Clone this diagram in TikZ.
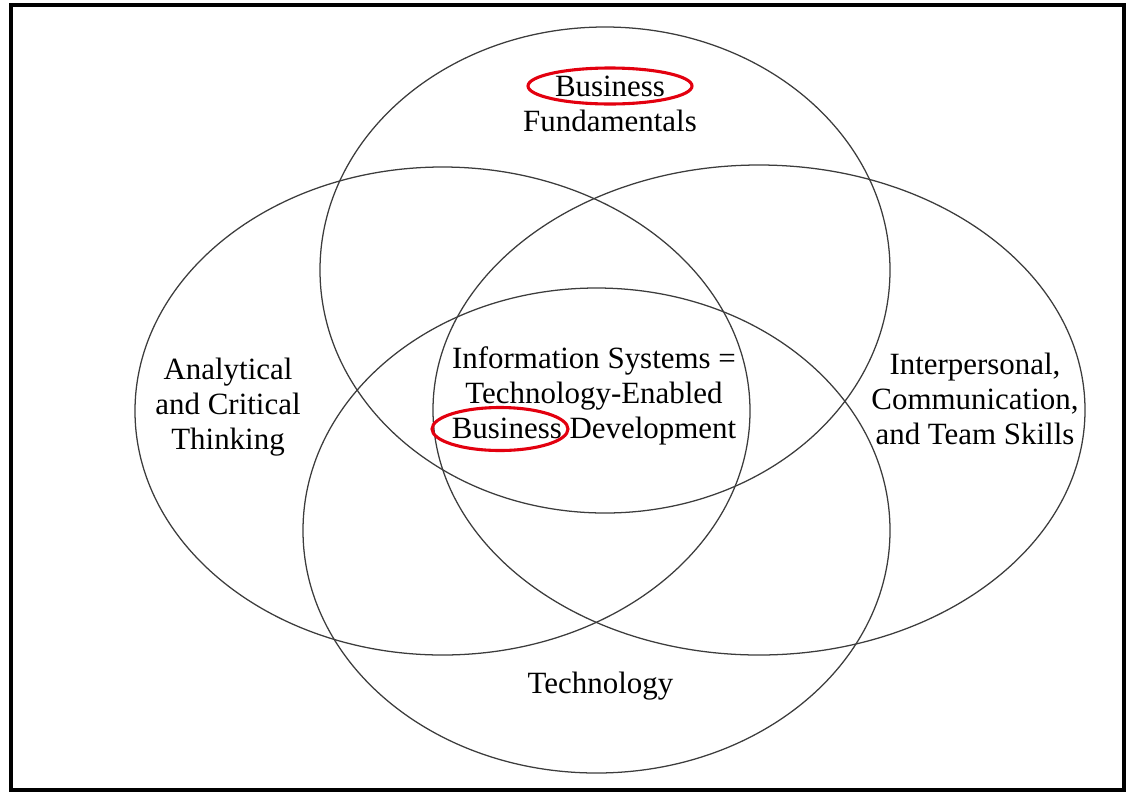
\documentclass[tikz,border=0pt]{standalone}
\usepackage{fontspec}
\setmainfont{Liberation Serif}
\definecolor{mRingRed}{HTML}{E3000F}
\definecolor{mLineGrey}{HTML}{3C3C3C}
\usetikzlibrary{calc, shapes.geometric, positioning}
\tikzset{
  venn/.style={
    ellipse, draw=mLineGrey, line width=0.9pt, inner sep=0pt
  },
  area/.style={
    align=center, inner sep=0pt, font=\fontsize{22}{25}\selectfont
  },
  redring/.style={
    ellipse, draw=mRingRed, line width=2.2pt, inner sep=0pt
  }
}

\begin{document}
\begin{tikzpicture}
        \useasboundingbox (0,0) rectangle (28.175,-19.85);
        \draw[line width=3.5pt] (0.275,-0.125) rectangle (28.1,-19.75);
        \node[venn, minimum width=14.25cm, minimum height=12.15cm] (e0) at (15.125,-6.75) {};
        \node[venn, minimum width=15.375cm, minimum height=12.2cm] (e1) at (11.0625,-10.275) {};
        \node[venn, minimum width=16.3cm, minimum height=12.25cm] (e2) at (18.975,-10.25) {};
        \node[venn, minimum width=14.675cm, minimum height=12.125cm] (e3) at (14.9125,-13.2625) {};
        \node[area] (l0) at ($(e0)+(0.125,4.15)$) {Business\\Fundamentals};
        \node[area] (l1) at ($(e1)+(-5.3625,0.1)$) {Analytical\\and Critical\\Thinking};
        \node[area] (l2) at ($(e0)+(-0.275,-3.15)$) {Information Systems =\\Technology-Enabled\\Business Development};
        \node[area] (l3) at ($(e2)+(5.4,0.275)$) {Interpersonal,\\Communication,\\and Team Skills};
        \node[area] (l4) at ($(e3)+(0.1,-3.8875)$) {Technology};
        \node[redring, minimum width=4.1cm, minimum height=0.9cm] (r0) at (15.25,-2.15) {};
        \node[redring, minimum width=3.4cm, minimum height=1.075cm] (r1) at (12.5,-10.725) {};
    \end{tikzpicture}
\end{document}
